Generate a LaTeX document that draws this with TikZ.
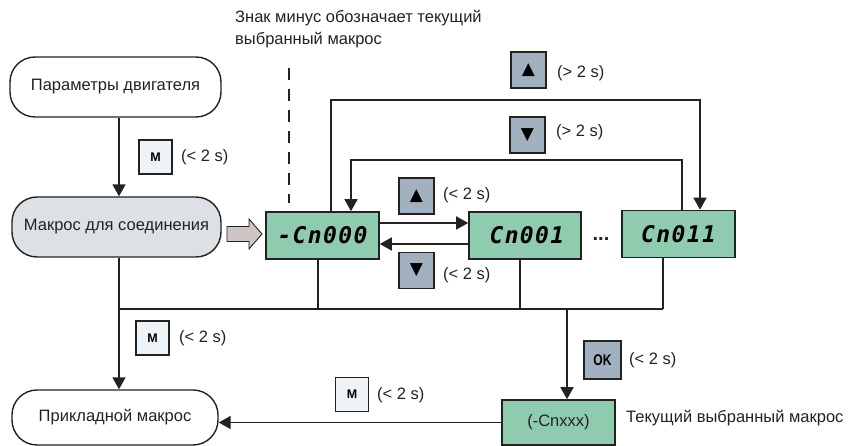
\documentclass[tikz,border=0pt]{standalone}
\usepackage{fontspec}
\setmainfont{Liberation Sans}
\newfontfamily\symfont{DejaVu Sans}
\newfontfamily\segfont[LetterSpace=6]{DejaVu Sans Mono}
\newfontfamily\condfont[FakeStretch=0.78]{Liberation Sans}
\usetikzlibrary{arrows.meta,calc}
\definecolor{btnblue}{HTML}{A1B1BF}
\definecolor{btnlight}{HTML}{EEF3F8}
\definecolor{lcd}{HTML}{8FCBAE}
\definecolor{stgray}{HTML}{DDE1E5}
\definecolor{arrgray}{HTML}{CFC3C3}
\definecolor{ink}{HTML}{222222}
\begin{document}
\begin{tikzpicture}[x=1pt,y=-1pt,
  every node/.style={inner sep=0pt},
  lbl/.style={font=\fontsize{16.5}{19}\selectfont, text=ink, anchor=west},
  stadium/.style={draw=ink, line width=1.4pt, rounded corners=25pt, font=\fontsize{16.5}{19}\selectfont, text=ink},
  lcdbox/.style={draw=ink, fill=lcd, line width=1.6pt, minimum width=113pt, minimum height=47pt},
  segtext/.style={font=\segfont\bfseries\itshape\fontsize{23}{23}\selectfont},
  btnb/.style={draw=ink, fill=btnblue, line width=1.3pt, minimum width=35pt, minimum height=36pt, font=\symfont\fontsize{17}{17}\selectfont},
  btnl/.style={draw=ink, fill=btnlight, line width=1.3pt, minimum width=33pt, minimum height=34pt, font=\bfseries\fontsize{12.5}{12.5}\selectfont},
  conn/.style={draw=ink, line width=1.7pt},
  arr/.style={conn, -{Triangle[width=13pt,length=12pt]}},
]
\useasboundingbox (0,0) rectangle (848,446);

% captions
\node[lbl] (cap1) at (235,18) {Знак минус обозначает текущий};
\node[lbl] (cap2) at (235,40) {выбранный макрос};
\coordinate (dtop) at (289,68);
\coordinate (dbot) at (289,203);
\draw[conn, dash pattern=on 12pt off 9pt] (dtop) -- (dbot);

% stadiums
\node[stadium, minimum width=211pt, minimum height=60pt] (param) at (115.5,87) {Параметры двигателя};
\node[stadium, fill=stgray, minimum width=209pt, minimum height=60pt] (mak) at (116.5,227) {Макрос для соединения};
\node[stadium, minimum width=206pt, minimum height=55pt] (pri) at (115,417.5) {Прикладной макрос};

% grey hollow arrow
\coordinate (ga) at (227,234);
\draw[draw=ink, fill=arrgray, line width=0.9pt, line join=miter]
  ($(ga)+(0,-7.5)$) -- ++(22,0) -- ++(0,-7.5) -- ($(ga)+(35,0)$) -- ($(ga)+(22,15)$) -- ++(0,-7.5) -- ($(ga)+(0,7.5)$) -- cycle;

% LCD boxes
\node[lcdbox, segtext] (c000) at (322.5,235.5) {-Cn000};
\node[lcdbox, segtext, minimum width=112pt] (c001) at (525,235.5) {\,Cn001};
\node[lcdbox, segtext] (c011) at (678.5,234) {Cn011};
\node[font=\bfseries\fontsize{20}{20}\selectfont, text=ink] (dots) at (601,239) {...};
\node[lcdbox, minimum width=113pt, minimum height=45pt, font=\fontsize{16.5}{19}\selectfont, text=ink] (cnx) at (558.5,422.5) {(-Cnxxx)};
\node[lbl] (cur) at (626,418) {Текущий выбранный макрос};

% buttons and labels
\node[btnl] (m1) at (155.5,157) {M};
\node[lbl] (m1t) at (181,157) {(< 2 s)};
\node[btnb] (upL) at (416.5,196) {▲};
\node[lbl] (upLt) at (443,195) {(< 2 s)};
\node[btnb] (dnL) at (416.5,270.5) {▼};
\node[lbl] (dnLt) at (443,275) {(< 2 s)};
\node[btnb] (upG) at (528.5,70) {▲};
\node[lbl] (upGt) at (557,73) {(> 2 s)};
\node[btnb] (dnG) at (527.5,135) {▼};
\node[lbl] (dnGt) at (556,132) {(> 2 s)};
\node[btnl] (m2) at (152.5,338) {M};
\node[lbl] (m2t) at (179,338) {(< 2 s)};
\node[btnl] (m3) at (352,394.5) {M};
\node[lbl] (m3t) at (377,395) {(< 2 s)};
\node[btnb, minimum width=37pt, minimum height=38pt, font=\condfont\bfseries\fontsize{15.5}{15.5}\selectfont] (ok) at (602.5,360) {OK};
\node[lbl] (okt) at (629,360) {(< 2 s)};

% coordinates
\coordinate (colx) at (119,0);
\coordinate (busL) at (119,309);
\coordinate (b0) at (318,309);
\coordinate (b1) at (520,309);
\coordinate (busR) at (663,309);
\coordinate (bk) at (567,309);
\coordinate (g1a) at (331,100);
\coordinate (g1b) at (700,100);
\coordinate (g2a) at (682,160);
\coordinate (g2b) at (351,160);

% connectors
\draw[arr] (param.south -| colx) -- (mak.north -| colx);
\draw[arr] (mak.south -| colx) -- (pri.north -| colx);
\draw[conn] (busL) -- (busR);
\draw[conn] (c000.south -| b0) -- (b0);
\draw[conn] (c001.south -| b1) -- (b1);
\draw[conn] (c011.south -| busR) -- (busR);
\draw[arr] (bk) -- (cnx.north -| bk);
\draw[arr] (cnx.west) -- (pri.east |- cnx.west);
\draw[arr] ([yshift=12.5pt]c000.east) -- ([yshift=12.5pt]c000.east -| c001.west);
\draw[arr] ([yshift=-8.5pt]c001.west) -- ([yshift=-8.5pt]c001.west -| c000.east);
\draw[arr] (c000.north -| g1a) -- (g1a) -- (g1b) -- (c011.north -| g1b);
\draw[arr] (c011.north -| g2a) -- (g2a) -- (g2b) -- (c000.north -| g2b);
\end{tikzpicture}
\end{document}
